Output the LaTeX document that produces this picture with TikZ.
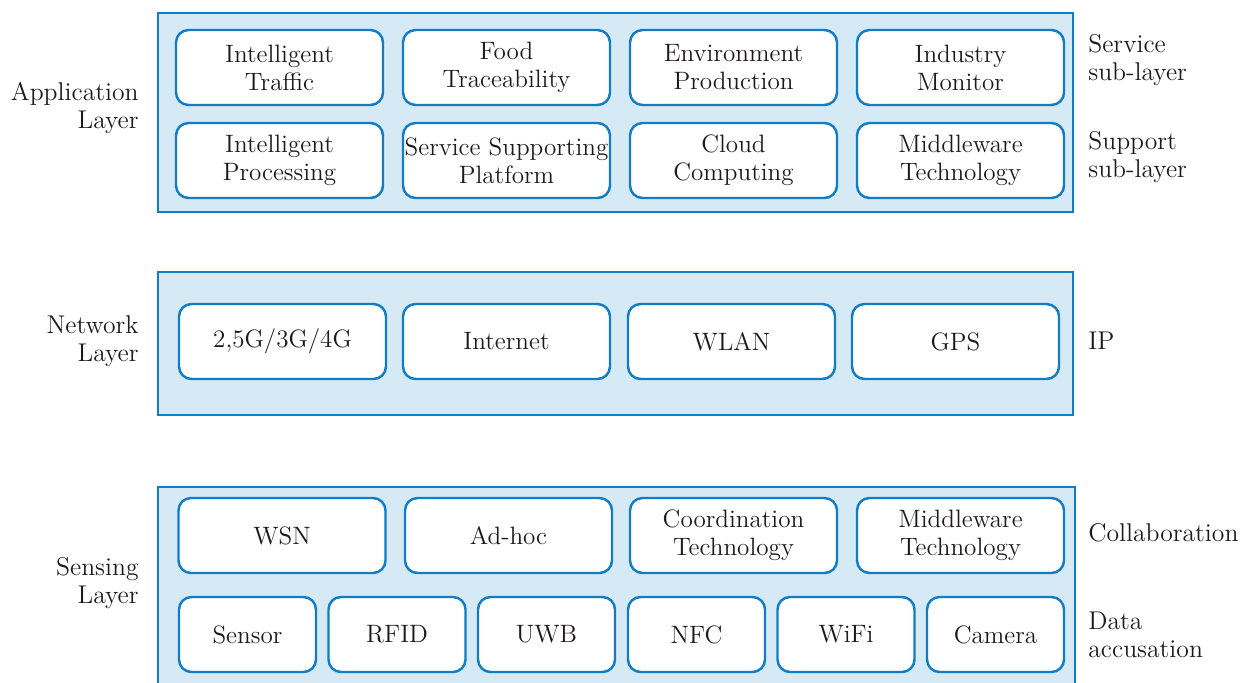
\documentclass[tikz,border=0pt]{standalone}
\usepackage{xcolor}
\usepackage{tikz}
\usetikzlibrary{positioning}

\definecolor{layerblue}{RGB}{18,124,196}
\definecolor{layerfill}{RGB}{214,234,246}
\definecolor{inktext}{RGB}{30,26,27}

\begin{document}
\begin{tikzpicture}[
		layer/.style={rectangle, draw=layerblue, fill=layerfill, line width=1.2pt},
		item/.style={rectangle, rounded corners=0.25cm, draw=layerblue, fill=white, line width=1.4pt,
			minimum width=4.14cm, minimum height=1.5cm, inner sep=0pt, align=center,
			text=inktext, font=\fontsize{14.3}{16}\selectfont},
		small/.style={item, minimum width=2.74cm},
		lefttext/.style={anchor=east, align=right, inner sep=0pt, text=inktext, font=\fontsize{14.6}{16}\selectfont},
		righttext/.style={anchor=west, align=left, inner sep=0pt, text=inktext, font=\fontsize{14.6}{16}\selectfont}
		]
		\useasboundingbox (0,0) rectangle (24.94,13.64);
		
		% Les couches
		\node[layer, minimum width=18.30cm, minimum height=3.98cm] (app) at (12.31, 11.39) {};
		\node[layer, minimum width=18.30cm, minimum height=2.86cm] (net) at (12.31, 6.77) {};
		\node[layer, minimum width=18.34cm, minimum height=4.26cm] (sens) at (12.33, 1.77) {};
		
		% Application
		\node[item] (traffic) at (5.59, 12.29) {Intelligent\\Traffic};
		\node[item] (food) at (10.13, 12.29) {Food\\Traceability};
		\node[item] (env) at (14.67, 12.29) {Environment\\Production};
		\node[item] (industry) at (19.21, 12.29) {Industry\\Monitor};
		\node[item] (proc) at (5.59, 10.43) {Intelligent\\Processing};
		\node[item] (platform) at (10.13, 10.43) {Service Supporting\\Platform};
		\node[item] (cloud) at (14.67, 10.43) {Cloud\\Computing};
		\node[item] (mwapp) at (19.21, 10.43) {Middleware\\Technology};
		
		% Network
		\node[item] (mobile) at (5.65, 6.81) {2,5G/3G/4G};
		\node[item] (internet) at (10.13, 6.81) {Internet};
		\node[item] (wlan) at (14.63, 6.81) {WLAN};
		\node[item] (gps) at (19.11, 6.81) {GPS};
		
		% Sensing
		\node[item] (wsn) at (5.64, 2.93) {WSN};
		\node[item] (adhoc) at (10.17, 2.93) {Ad-hoc};
		\node[item] (coord) at (14.67, 2.93) {Coordination\\Technology};
		\node[item] (mwsens) at (19.21, 2.93) {Middleware\\Technology};
		\node[small] (sensor) at (4.95, 0.95) {Sensor};
		\node[small] (rfid) at (7.94, 0.95) {RFID};
		\node[small] (uwb) at (10.93, 0.95) {UWB};
		\node[small] (nfc) at (13.93, 0.95) {NFC};
		\node[small] (wifi) at (16.92, 0.95) {WiFi};
		\node[small] (camera) at (19.91, 0.95) {Camera};
		
		% Les legendes
		\node[lefttext] (applbl) at (2.78, 11.48) {Application\\Layer};
		\node[lefttext] (netlbl) at (2.78, 6.82) {Network\\Layer};
		\node[lefttext] (senslbl) at (2.78, 1.98) {Sensing\\Layer};
		\node[righttext] (service) at (21.76, 12.44) {Service\\sub-layer};
		\node[righttext] (support) at (21.76, 10.50) {Support\\sub-layer};
		\node[righttext] (ip) at (21.76, 6.82) {IP};
		\node[righttext] (collab) at (21.76, 2.98) {Collaboration};
		\node[righttext] (data) at (21.76, 0.94) {Data\\accusation};
	\end{tikzpicture}
\end{document}
